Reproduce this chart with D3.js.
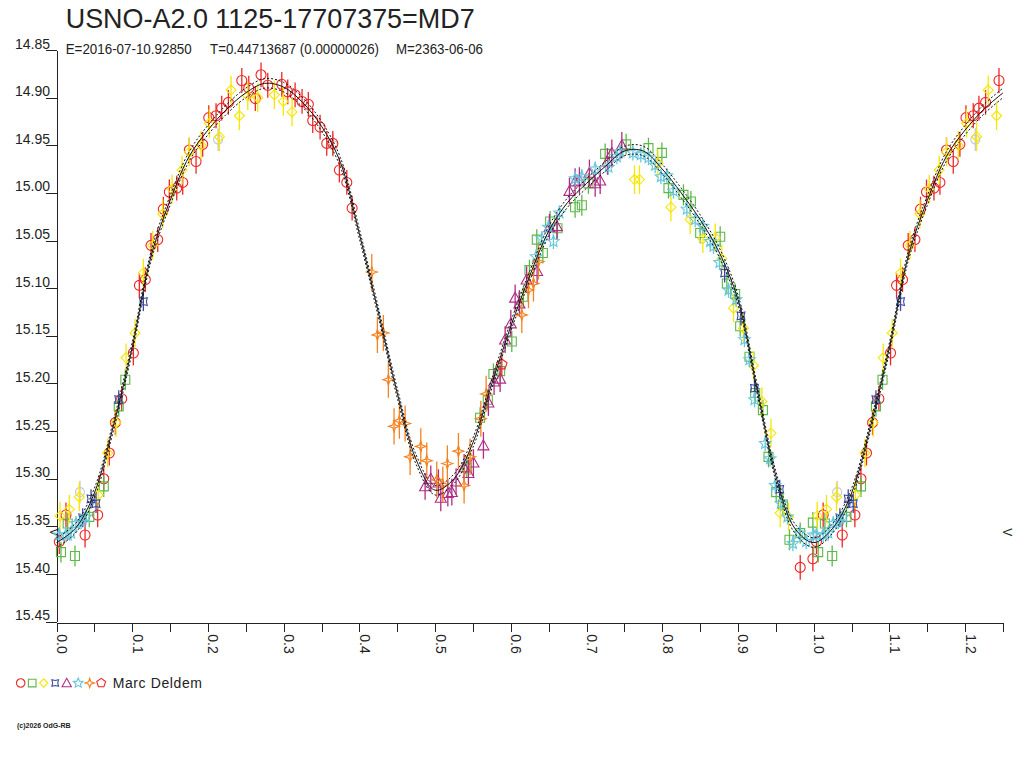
<!DOCTYPE html>
<html lang="en">
<head>
<meta charset="UTF-8">
<title>USNO-A2.0 1125-17707375=MD7</title>
<script src="https://d3js.org/d3.v7.min.js"></script>
<style>
  body { margin: 0; background: #fff; }
  svg text { font-family: "Liberation Sans", Arial, sans-serif; fill: #222; }
</style>
</head>
<body>
<div id="chart"></div>
<script>
// ---- chart texts ----
const titleText = "USNO-A2.0 1125-17707375=MD7";
const subTexts = ["E=2016-07-10.92850", "T=0.44713687 (0.00000026)", "M=2363-06-06"];
const observerName = "Marc Deldem";
const creditText = "(c)2026 OdG-RB";
const bandName = "V";

// ---- axes ----
const magTicks = [14.85, 14.90, 14.95, 15.00, 15.05, 15.10, 15.15, 15.20, 15.25, 15.30, 15.35, 15.40, 15.45];
const phaseTicks = [0, 0.05, 0.1, 0.15, 0.2, 0.25, 0.3, 0.35, 0.4, 0.45, 0.5, 0.55, 0.6, 0.65,
                    0.7, 0.75, 0.8, 0.85, 0.9, 0.95, 1.0, 1.05, 1.1, 1.15, 1.2, 1.25];
const phaseLabels = ["0.0", "", "0.1", "", "0.2", "", "0.3", "", "0.4", "", "0.5", "", "0.6", "",
                     "0.7", "", "0.8", "", "0.9", "", "1.0", "", "1.1", "", "1.2", ""];
const bandMag = 15.354;

// ---- fitted light curve, one cycle ----
const fitPhase = [0.000, 0.025, 0.050, 0.075, 0.100, 0.125, 0.150, 0.175, 0.200, 0.225, 0.250,
                  0.275, 0.300, 0.325, 0.350, 0.375, 0.400, 0.425, 0.450, 0.475, 0.500,
                  0.525, 0.550, 0.575, 0.600, 0.625, 0.650, 0.675, 0.700, 0.725, 0.750,
                  0.775, 0.800, 0.825, 0.850, 0.875, 0.900, 0.925, 0.950, 0.975, 1.000];
const fitMag = [15.367, 15.352, 15.315, 15.245, 15.162, 15.066, 15.008, 14.962, 14.934, 14.912, 14.895,
                14.885, 14.889, 14.905, 14.930, 14.968, 15.043, 15.125, 15.210, 15.280, 15.312,
                15.300, 15.262, 15.200, 15.140, 15.087, 15.040, 15.010, 14.990, 14.972, 14.956,
                14.956, 14.975, 15.000, 15.028, 15.062, 15.112, 15.205, 15.297, 15.352, 15.367];
const fitSigma = 0.005;

// ---- observations [phase, mag] per symbol ----
const circlePts = [[0.0037,15.366],[0.0125,15.338],[0.0377,15.359],[0.0544,15.338],[0.0624,15.300],
  [0.0697,15.273],[0.0777,15.241],[0.0861,15.216],[0.1015,15.168],[0.1094,15.097],[0.1173,15.091],
  [0.1248,15.055],[0.1337,15.049],[0.1411,15.017],[0.1490,14.999],[0.1588,14.995],[0.1667,14.989],
  [0.1754,14.955],[0.1843,14.967],[0.1931,14.949],[0.2011,14.921],[0.2107,14.919],[0.2182,14.911],
  [0.2270,14.905],[0.2447,14.882],[0.2539,14.890],[0.2626,14.901],[0.2701,14.876],[0.2790,14.887],
  [0.2975,14.886],[0.3054,14.894],[0.3151,14.897],[0.3243,14.904],[0.3326,14.907],[0.3384,14.924],
  [0.3481,14.931],[0.3569,14.948],[0.3649,14.948],[0.3736,14.976],[0.3834,14.989],[0.3904,15.016],
  [0.9822,15.393],[0.9989,15.384]];
const squarePts = [[0.0059,15.377],[0.0148,15.347],[0.0244,15.381],[0.0433,15.340],[0.0624,15.308],
  [0.0822,15.224],[0.0909,15.196],[0.5419,15.288],[0.5594,15.236],[0.5696,15.217],[0.5770,15.190],
  [0.5859,15.187],[0.6013,15.156],[0.6166,15.109],[0.6246,15.081],[0.6343,15.049],[0.6423,15.063],
  [0.6519,15.030],[0.6616,15.037],[0.6849,15.015],[0.6938,15.013],[0.7025,14.990],[0.7246,14.959],
  [0.7523,14.949],[0.7818,14.953],[0.7995,14.958],[0.8082,14.995],[0.8280,15.002],[0.8378,15.009],
  [0.8501,15.042],[0.8765,15.046],[0.8853,15.095],[0.8963,15.106],[0.9029,15.140],[0.9152,15.172],
  [0.9227,15.210],[0.9329,15.228],[0.9403,15.277],[0.9505,15.314],[0.9593,15.327],[0.9680,15.364],
  [0.9822,15.357],[0.9989,15.346]];
const diamondPts = [[0.0046,15.339],[0.0169,15.332],[0.0301,15.319],[0.0550,15.317],[0.0676,15.273],
  [0.0786,15.241],[0.0918,15.173],[0.1037,15.147],[0.1147,15.084],[0.1271,15.055],[0.1403,15.022],
  [0.1526,14.996],[0.1658,14.976],[0.1754,14.957],[0.1909,14.950],[0.2018,14.927],[0.2151,14.941],
  [0.2305,14.892],[0.2415,14.919],[0.2526,14.898],[0.2658,14.900],[0.2877,14.897],[0.2996,14.904],
  [0.3111,14.915],[0.7633,14.986],[0.7699,14.986],[0.7942,14.969],[0.8114,15.015],[0.8369,15.028],
  [0.8536,15.048],[0.8699,15.047],[0.8787,15.069],[0.8941,15.121],[0.9073,15.142],[0.9205,15.181],
  [0.9316,15.219],[0.9435,15.252],[0.9557,15.336],[0.9667,15.340]];
const crossPts = [[0.0346,15.341],[0.0456,15.321],[0.0522,15.326],[0.0822,15.217],[0.1147,15.114],
  [0.8824,15.084],[0.9040,15.129],[0.9218,15.205],[0.9551,15.311]];
const trianglePts = [[0.4868,15.308],[0.4943,15.300],[0.5044,15.304],[0.5075,15.320],[0.5168,15.315],
  [0.5221,15.314],[0.5277,15.303],[0.5383,15.288],[0.5440,15.294],[0.5506,15.283],[0.5638,15.265],
  [0.5704,15.220],[0.5779,15.198],[0.5859,15.195],[0.5925,15.154],[0.6000,15.137],[0.6057,15.110],
  [0.6114,15.116],[0.6209,15.091],[0.6347,15.082],[0.6510,15.036],[0.6608,15.035],[0.6774,14.998],
  [0.6849,14.988],[0.6906,14.987],[0.7038,14.979],[0.7114,14.990],[0.7180,14.987],[0.7276,14.967],
  [0.7334,14.958],[0.7466,14.950]];
const starPts = [[0.0037,15.359],[0.0125,15.359],[0.0192,15.357],[0.0258,15.347],[0.0324,15.345],
  [0.0390,15.340],[0.6334,15.067],[0.6410,15.048],[0.6497,15.036],[0.6563,15.051],[0.6642,15.021],
  [0.6849,14.985],[0.6938,14.983],[0.7114,14.975],[0.7289,14.973],[0.7400,14.962],[0.7444,14.957],
  [0.7612,14.958],[0.7717,14.960],[0.7818,14.963],[0.7906,14.971],[0.7982,14.983],[0.8061,14.982],
  [0.8148,14.998],[0.8325,15.017],[0.8435,15.028],[0.8536,15.035],[0.8633,15.051],[0.8676,15.056],
  [0.8756,15.073],[0.8875,15.102],[0.8976,15.112],[0.9086,15.154],[0.9152,15.175],[0.9218,15.217],
  [0.9359,15.263],[0.9425,15.279],[0.9491,15.307],[0.9567,15.326],[0.9654,15.340],[0.9725,15.368],
  [0.9812,15.357],[0.9901,15.366],[0.9997,15.359]];
const sparklePts = [[0.4164,15.083],[0.4238,15.149],[0.4317,15.147],[0.4383,15.196],[0.4458,15.245],
  [0.4528,15.239],[0.4604,15.242],[0.4670,15.277],[0.4811,15.266],[0.4890,15.281],[0.5022,15.301],
  [0.5102,15.306],[0.5162,15.284],[0.5308,15.271],[0.5383,15.307],[0.5462,15.277],[0.5604,15.237],
  [0.5674,15.211],[0.6145,15.128],[0.6233,15.102],[0.6299,15.095],[0.6365,15.072]];
const pentagonPts = [[0.5881,15.180]];
const greyPts = [[0.0310,15.314],[0.2134,14.944],[0.3653,14.950]];

// typical error of each set (mag), same order as the sets below
const setErr = [0.012, 0.013, 0.011, 0.015, 0.010, 0.014, 0.008, 0.019, 0.012];

// ---- symbol shapes (size = radius in px) ----
const symCircle = { draw(c, r) { c.moveTo(r, 0); c.arc(0, 0, r, 0, 2 * Math.PI); } };
const symSquare = { draw(c, r) { const h = r * 0.9; c.rect(-h, -h, 2 * h, 2 * h); } };
const symDiamond = { draw(c, r) { c.moveTo(0, -r); c.lineTo(r, 0); c.lineTo(0, r); c.lineTo(-r, 0); c.closePath(); } };
const symTriangle = { draw(c, r) { c.moveTo(0, -r); c.lineTo(r, r * 0.8); c.lineTo(-r, r * 0.8); c.closePath(); } };
function starShape(n, inner, rot) {
  return { draw(c, r) {
    for (let i = 0; i < 2 * n; i++) {
      const a = rot + i * Math.PI / n, rr = i % 2 ? r * inner : r;
      if (i === 0) c.moveTo(rr * Math.cos(a), rr * Math.sin(a));
      else c.lineTo(rr * Math.cos(a), rr * Math.sin(a));
    }
    c.closePath();
  } };
}
const symStar = starShape(5, 0.45, -Math.PI / 2);
const symSparkle = starShape(4, 0.35, -Math.PI / 2);
const symCross = starShape(4, 0.55, -Math.PI / 4);
const symPentagon = { draw(c, r) {
  for (let i = 0; i < 5; i++) {
    const a = -Math.PI / 2 + i * 2 * Math.PI / 5;
    if (i === 0) c.moveTo(r * Math.cos(a), r * Math.sin(a)); else c.lineTo(r * Math.cos(a), r * Math.sin(a));
  }
  c.closePath();
} };

// draw order and styling
const sets = [
  { pts: greyPts,     type: symCircle,   color: "#c8c8c8", r: 4.5, legend: false },
  { pts: circlePts,   type: symCircle,   color: "#ee2626", r: 5,   legend: true },
  { pts: squarePts,   type: symSquare,   color: "#5db84a", r: 5,   legend: true },
  { pts: diamondPts,  type: symDiamond,  color: "#f7e600", r: 5,   legend: true },
  { pts: crossPts,    type: symCross,    color: "#3a4aa2", r: 5.5, legend: true },
  { pts: trianglePts, type: symTriangle, color: "#b02c84", r: 5.5, legend: true },
  { pts: starPts,     type: symStar,     color: "#66c6dc", r: 6,   legend: true },
  { pts: sparklePts,  type: symSparkle,  color: "#f5821f", r: 5.5, legend: true },
  { pts: pentagonPts, type: symPentagon, color: "#ee2626", r: 5.5, legend: true }
];

// ---- layout ----
const W = 1024, H = 768;
const svg = d3.select("#chart").append("svg").attr("width", W).attr("height", H);

const x = d3.scaleLinear().domain([0, 1.25]).range([56.5, 1003]);
const y = d3.scaleLinear().domain([14.85, 15.45]).range([50, 621.7]);

// title and elements
svg.append("text").attr("x", 65.7).attr("y", 28.3)
  .attr("font-size", 28).attr("textLength", 409).attr("lengthAdjust", "spacingAndGlyphs")
  .text(titleText);
const subX = [65.7, 210, 396], subLen = [126, 169, 87];
subTexts.forEach((t, i) => {
  svg.append("text").attr("x", subX[i]).attr("y", 54).attr("font-size", 14)
    .attr("textLength", subLen[i]).attr("lengthAdjust", "spacingAndGlyphs").text(t);
});

// y axis (magnitude, brighter up)
const yAxis = svg.append("g").attr("transform", "translate(56.5,0)")
  .call(d3.axisLeft(y).tickValues(magTicks).tickFormat(d3.format(".2f"))
    .tickSize(10.5).tickSizeOuter(0).tickPadding(-4));
yAxis.selectAll("text").attr("dy", 0).attr("y", -2)
  .attr("font-size", 14).attr("font-family", "Liberation Sans, Arial, sans-serif").style("fill", "#222");
yAxis.selectAll("line, path").attr("stroke", "#222").attr("shape-rendering", "crispEdges");

// x axis (phase)
const xAxis = svg.append("g").attr("transform", "translate(0,622.7)")
  .call(d3.axisBottom(x).tickValues(phaseTicks).tickFormat((d, i) => phaseLabels[i])
    .tickSize(9).tickSizeOuter(0));
xAxis.selectAll("text").attr("y", 0).attr("dy", 0).attr("x", 11.5)
  .attr("transform", "rotate(90)").style("text-anchor", "start")
  .attr("font-size", 14).attr("font-family", "Liberation Sans, Arial, sans-serif").style("fill", "#222");
xAxis.selectAll("line, path").attr("stroke", "#222").attr("shape-rendering", "crispEdges");

// band markers at both ends
[[50, bandMag], [1003, bandMag]].forEach(([px, m]) => {
  svg.append("text").attr("font-size", 12)
    .attr("transform", `translate(${px},${y(m) - 2}) rotate(90)`).text(bandName);
});

// observations, the first quarter repeated after phase 1
const plot = svg.append("g");
sets.forEach((s, si) => {
  const err = setErr[si];
  const pts = s.pts.concat(s.pts.filter(d => d[0] + 1 <= 1.25).map(d => [d[0] + 1, d[1]]));
  const g = plot.append("g").attr("stroke", s.color).attr("fill", "none");
  g.selectAll("line").data(pts).join("line")
    .attr("x1", d => x(d[0])).attr("x2", d => x(d[0]))
    .attr("y1", d => y(d[1] - err)).attr("y2", d => y(d[1] + err))
    .attr("stroke-width", 1.3);
  g.selectAll("path").data(pts).join("path")
    .attr("transform", d => `translate(${x(d[0])},${y(d[1])})`)
    .attr("d", d3.symbol().type(s.type).size(s.r))
    .attr("stroke-width", 1.1);
});

// fitted curve with its envelope
const fitPts = fitPhase.map((p, i) => [p, fitMag[i]]);
const fitAll = fitPts.concat(fitPts.filter(d => d[0] > 0 && d[0] <= 0.25).map(d => [d[0] + 1, d[1]]));
const line = d3.line().x(d => x(d[0])).y(d => y(d[1])).curve(d3.curveCatmullRom.alpha(0.5));
[-fitSigma, fitSigma].forEach(off => {
  svg.append("path").datum(fitAll.map(d => [d[0], d[1] + off]))
    .attr("d", line).attr("fill", "none").attr("stroke", "#111")
    .attr("stroke-width", 1).attr("stroke-dasharray", "2,2");
});
svg.append("path").datum(fitAll).attr("d", line)
  .attr("fill", "none").attr("stroke", "#111").attr("stroke-width", 1);

// legend
const legend = svg.append("g").attr("transform", "translate(20.7,683)");
sets.filter(s => s.legend).forEach((s, i) => {
  legend.append("path").attr("transform", `translate(${i * 11.5},0)`)
    .attr("d", d3.symbol().type(s.type).size(s.r * 0.85))
    .attr("fill", "none").attr("stroke", s.color).attr("stroke-width", 1.1);
});
svg.append("text").attr("x", 112.7).attr("y", 687.5).attr("font-size", 14)
  .attr("letter-spacing", 0.6).text(observerName);

// credit
svg.append("text").attr("x", 17).attr("y", 727.5).attr("font-size", 7)
  .attr("font-weight", "bold").text(creditText);
</script>
</body>
</html>
